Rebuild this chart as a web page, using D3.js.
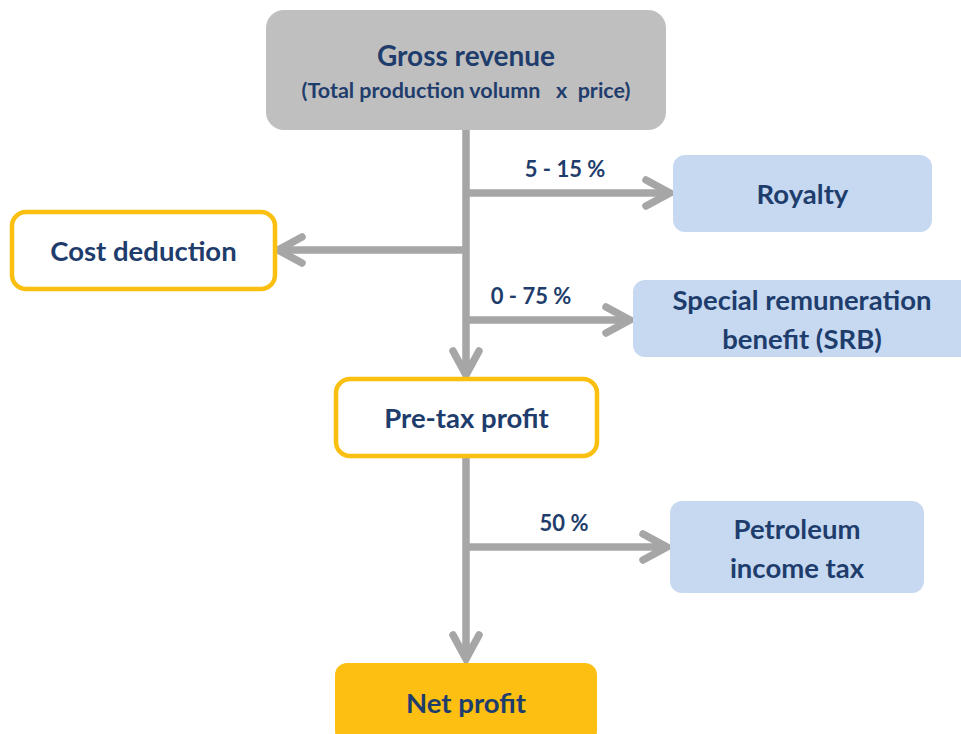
<!DOCTYPE html>
<html>
<head>
<meta charset="utf-8">
<script src="https://cdn.jsdelivr.net/npm/d3@7"></script>
<style>
  html, body { margin: 0; padding: 0; background: #fff; }
  svg { display: block; }
  text { font-family: Lato, "Open Sans", sans-serif; font-weight: 700; fill: #1f3d6c; }
</style>
</head>
<body>
<div id="chart"></div>
<script>
// Nodes of the flow
const nodeIds = ['gross', 'royalty', 'cost', 'srb', 'pretax', 'pit', 'net'];
const nodeLines = [
    ['Gross revenue', '(Total production volumn   x  price)'],
    ['Royalty'],
    ['Cost deduction'],
    ['Special remuneration', 'benefit (SRB)'],
    ['Pre-tax profit'],
    ['Petroleum', 'income tax'],
    ['Net profit']
];
const nodeKinds = ['source', 'levy', 'deduct', 'levy', 'stage', 'levy', 'result'];

// Flows (branch -> target) and their rates
const flowFrom = ['gross', 'gross', 'gross', 'gross', 'pretax', 'pretax'];
const flowTo = ['royalty', 'cost', 'srb', 'pretax', 'pit', 'net'];
const flowRates = ['5 - 15 %', '', '0 - 75 %', '', '50 %', ''];

// Layout (pixels)
const width = 961, height = 734, trunkX = 466;
const boxes = {
    gross: { x: 266, y: 10, w: 400, h: 120 },
    royalty: { x: 673, y: 155, w: 259, h: 77 },
    cost: { x: 12, y: 212, w: 263, h: 77 },
    srb: { x: 633, y: 280, w: 340, h: 77 },
    pretax: { x: 336, y: 379, w: 261, h: 77 },
    pit: { x: 670, y: 501, w: 254, h: 92 },
    net: { x: 335, y: 663, w: 262, h: 80 }
};
const branchY = { royalty: 193, cost: 250, srb: 320, pit: 547 };
const labelX = { royalty: 565, srb: 531, pit: 564 };
const styles = {
    source: { fill: '#bfbfbf', stroke: 'none', r: 18 },
    levy: { fill: '#c6d9f1', stroke: 'none', r: 12 },
    deduct: { fill: '#ffffff', stroke: '#fbbf12', r: 14 },
    stage: { fill: '#ffffff', stroke: '#fbbf12', r: 14 },
    result: { fill: '#fcbf12', stroke: 'none', r: 12 }
};
const grey = '#a6a6a6';

const svg = d3.select('#chart').append('svg')
    .attr('width', width)
    .attr('height', height);

const nodes = nodeIds.map((id, i) => ({ id, lines: nodeLines[i], kind: nodeKinds[i], box: boxes[id] }));
const flows = flowFrom.map((f, i) => ({ from: f, to: flowTo[i], rate: flowRates[i] }));

// arrow shafts + heads
const arrows = svg.append('g')
    .attr('fill', 'none')
    .attr('stroke', grey)
    .attr('stroke-width', 7.5);

function chevron (tx, ty, dir) {
    const p = d3.path(), a = 24, b = 13;
    if (dir === 'right') { p.moveTo(tx - a, ty - b); p.lineTo(tx, ty); p.lineTo(tx - a, ty + b); }
    if (dir === 'left') { p.moveTo(tx + a, ty - b); p.lineTo(tx, ty); p.lineTo(tx + a, ty + b); }
    if (dir === 'down') { p.moveTo(tx - b, ty - a); p.lineTo(tx, ty); p.lineTo(tx + b, ty - a); }
    return p.toString();
}

flows.forEach(f => {
    const src = boxes[f.from], dst = boxes[f.to];
    let shaft, head;
    if (branchY[f.to] !== undefined) {
        const y = branchY[f.to];
        const right = dst.x > trunkX;
        const tx = right ? dst.x - 3 : dst.x + dst.w + 3;
        shaft = d3.line()([[trunkX, y], [right ? tx - 2 : tx + 2, y]]);
        head = chevron(tx, y, right ? 'right' : 'left');
    } else {
        const ty = dst.y - 4;
        shaft = d3.line()([[trunkX, src.y + src.h], [trunkX, ty - 2]]);
        head = chevron(trunkX, ty, 'down');
    }
    arrows.append('path').attr('d', shaft).attr('stroke-linecap', 'butt');
    arrows.append('path').attr('d', head)
        .attr('stroke-linecap', 'round')
        .attr('stroke-linejoin', 'miter');
});

// rate labels
svg.append('g').selectAll('text')
    .data(flows.filter(f => f.rate))
    .join('text')
    .attr('x', d => labelX[d.to])
    .attr('y', d => branchY[d.to] - 16)
    .attr('text-anchor', 'middle')
    .attr('font-size', 22)
    .text(d => d.rate);

// boxes
const node = svg.append('g').selectAll('g')
    .data(nodes)
    .join('g');

node.append('rect')
    .attr('x', d => d.box.x)
    .attr('y', d => d.box.y)
    .attr('width', d => d.box.w)
    .attr('height', d => d.box.h)
    .attr('rx', d => styles[d.kind].r)
    .attr('fill', d => styles[d.kind].fill)
    .attr('stroke', d => styles[d.kind].stroke)
    .attr('stroke-width', 4.5);

node.each(function (d) {
    const g = d3.select(this),
        cx = d.id === 'srb' ? 802 : d.id === 'pit' ? 797 : d.box.x + d.box.w / 2,
        cy = d.box.y + d.box.h / 2;
    if (d.kind === 'source') {
        g.append('text').attr('x', cx).attr('y', 66).attr('text-anchor', 'middle')
            .attr('font-size', 28).text(d.lines[0]);
        g.append('text').attr('x', cx).attr('y', 98).attr('text-anchor', 'middle')
            .attr('font-size', 21.5).attr('xml:space', 'preserve').text(d.lines[1]);
        return;
    }
    const lh = 39, n = d.lines.length;
    g.selectAll('text.l')
        .data(d.lines)
        .join('text')
        .attr('class', 'l')
        .attr('x', cx)
        .attr('y', (t, i) => cy + 10 + (i - (n - 1) / 2) * lh + (n > 1 ? 1 : 0))
        .attr('text-anchor', 'middle')
        .attr('font-size', 27.5)
        .text(t => t);
});
</script>
</body>
</html>
